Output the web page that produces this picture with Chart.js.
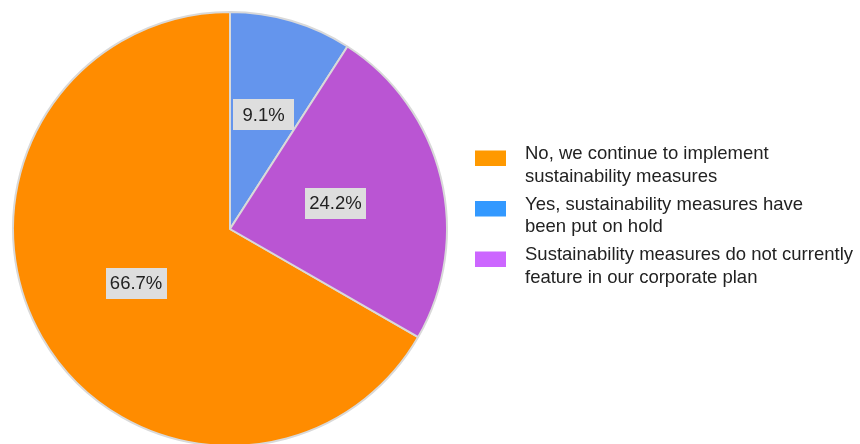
<!DOCTYPE html>
<html>
<head>
<meta charset="utf-8">
<script src="https://cdn.jsdelivr.net/npm/chart.js@4"></script>
<style>
  html, body { margin: 0; padding: 0; overflow: hidden; background: #ffffff; }
  #wrap { position: relative; width: 860px; height: 460px; }
</style>
</head>
<body>
<div id="wrap"><canvas id="c" width="860" height="460"></canvas></div>
<script>
// Survey answers: has the crisis put sustainability measures on hold?
const categories = [
  ['No, we continue to implement', 'sustainability measures'],
  ['Yes, sustainability measures have', 'been put on hold'],
  ['Sustainability measures do not currently', 'feature in our corporate plan']
];
const shares = [66.7, 9.1, 24.2];
const valueLabels = ['66.7%', '9.1%', '24.2%'];
const sliceColors = ['#ff8c00', '#6495ed', '#ba55d3'];
const legendColors = ['#ff9900', '#3399ff', '#cc66ff'];

const FONT = '18.5px "Liberation Sans", Arial, sans-serif';
const TEXT = '#222222';

// The first answer starts after the other two so those read clockwise from 12 o'clock.
const total = shares.reduce((a, b) => a + b, 0);
const startRotation = (total - shares[0]) / total * 360;

// Grey value boxes inside each slice, pushed outward until they clear the slice's leading edge.
const sliceLabels = {
  id: 'sliceLabels',
  afterDatasetsDraw(chart) {
    const ctx = chart.ctx;
    const meta = chart.getDatasetMeta(0);
    const bw = 61, bh = 31, margin = 3;
    ctx.save();
    ctx.font = FONT;
    ctx.textAlign = 'center';
    ctx.textBaseline = 'middle';
    meta.data.forEach((arc, i) => {
      const p = arc.getProps(['x', 'y', 'startAngle', 'endAngle', 'outerRadius'], true);
      const mid = (p.startAngle + p.endAngle) / 2;
      const ux = Math.cos(p.startAngle), uy = Math.sin(p.startAngle);
      let d = p.outerRadius * 0.5;
      let cx, cy;
      for (let k = 0; k < 200; k++) {
        cx = d * Math.cos(mid);
        cy = d * Math.sin(mid);
        let minDist = Infinity;
        for (const sx of [-1, 1]) for (const sy of [-1, 1]) {
          const px = cx + sx * bw / 2, py = cy + sy * bh / 2;
          minDist = Math.min(minDist, ux * py - uy * px);
        }
        if (minDist >= margin || d > p.outerRadius * 0.8) break;
        d += 0.5;
      }
      const X = p.x + cx, Y = p.y + cy;
      ctx.fillStyle = '#dedede';
      ctx.fillRect(Math.round(X - bw / 2), Math.round(Y - bh / 2), bw, bh);
      ctx.fillStyle = TEXT;
      ctx.fillText(valueLabels[i], X, Y + 1);
    });
    ctx.restore();
  }
};

// Legend on the right with two-line entries.
const sideLegend = {
  id: 'sideLegend',
  afterDraw(chart) {
    const ctx = chart.ctx;
    ctx.save();
    ctx.font = FONT;
    ctx.textAlign = 'left';
    ctx.textBaseline = 'alphabetic';
    categories.forEach((lines, i) => {
      const top = 150.5 + i * 50.5;
      ctx.fillStyle = legendColors[i];
      ctx.fillRect(475, top, 31, 15.5);
      ctx.fillStyle = TEXT;
      lines.forEach((line, j) => {
        ctx.fillText(line, 525, top + 8.5 + j * 22.7);
      });
    });
    ctx.restore();
  }
};

new Chart(document.getElementById('c'), {
  type: 'pie',
  data: {
    labels: categories,
    datasets: [{
      data: shares,
      backgroundColor: sliceColors,
      borderColor: '#d9d9d9',
      borderWidth: 2
    }]
  },
  options: {
    responsive: false,
    animation: false,
    rotation: startRotation,
    layout: { padding: { left: 12, right: 412, top: 11, bottom: 13 } },
    plugins: {
      legend: { display: false },
      tooltip: { enabled: false }
    }
  },
  plugins: [sliceLabels, sideLegend]
});
</script>
</body>
</html>
